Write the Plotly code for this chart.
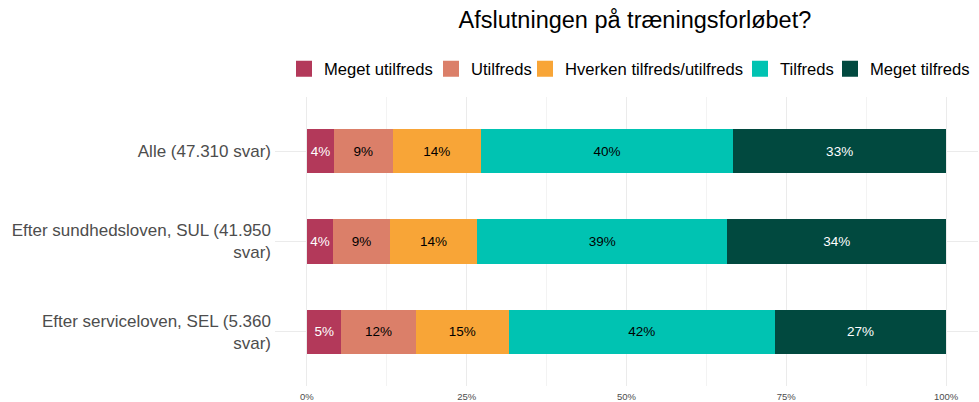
import plotly.graph_objects as go

categories = ["Alle (47.310 svar)",
              "Efter sundhedsloven, SUL (41.950<br>svar)",
              "Efter serviceloven, SEL (5.360<br>svar)"]
series_names = ["Meget utilfreds", "Utilfreds", "Hverken tilfreds/utilfreds", "Tilfreds", "Meget tilfreds"]
meget_utilfreds = [4.2, 4.1, 5.4]
utilfreds = [9.2, 8.9, 11.6]
hverken = [13.8, 13.6, 14.6]
tilfreds = [39.5, 39.2, 41.6]
meget_tilfreds = [33.3, 34.2, 26.8]
values = [meget_utilfreds, utilfreds, hverken, tilfreds, meget_tilfreds]
colors = ["#b3395a", "#db7f69", "#f8a537", "#00c3b2", "#01493f"]
text_colors = ["white", "black", "black", "black", "white"]
legend_widths = [102, 49, 170, 45, 100]
tick_vals = [0, 25, 50, 75, 100]
tick_text = ["0%", "25%", "50%", "75%", "100%"]

FONT = "Liberation Sans, Arial"

fig = go.Figure()
for name, vals, col, tc in zip(series_names, values, colors, text_colors):
    fig.add_trace(go.Bar(
        y=categories, x=vals, name=name, orientation="h",
        marker=dict(color=col, line=dict(width=0)),
        width=0.49,
        text=[f"{v:.0f}%" for v in vals],
        textposition="inside", insidetextanchor="middle",
        textfont=dict(color=tc, size=13.5, family=FONT),
        showlegend=False, hoverinfo="x+name",
    ))
for name, col, lw in zip(series_names, colors, legend_widths):
    fig.add_trace(go.Scatter(
        x=[None], y=[None], mode="markers", name=name,
        marker=dict(symbol="square", size=20, color=col),
        showlegend=True, legendwidth=lw,
    ))

fig.update_layout(
    width=979, height=402,
    barmode="stack",
    plot_bgcolor="white", paper_bgcolor="white",
    margin=dict(l=275, r=1, t=97, b=16, autoexpand=False),
    font=dict(family=FONT, color="#4d4d4d"),
    title=dict(text="Afslutningen på træningsforløbet?", x=0.512, xref="paper",
               xanchor="center", y=1 - 20 / 402, yanchor="middle",
               font=dict(size=23.5, color="black")),
    legend=dict(orientation="h", x=(284 - 275) / 703, xanchor="left", y=1.097, yanchor="middle",
                font=dict(size=16.6, color="black"), itemsizing="trace",
                traceorder="normal"),
    xaxis=dict(range=[-5, 105], tickvals=tick_vals, ticktext=tick_text,
               tickfont=dict(size=9.5, color="#4d4d4d"), showgrid=True,
               gridcolor="#ebebeb", gridwidth=1, zeroline=False, showline=False,
               minor=dict(dtick=12.5, tick0=12.5, showgrid=True, gridcolor="#f3f3f3", gridwidth=0.5),
               ticks="", ticklen=0, ticklabelstandoff=3, fixedrange=True),
    yaxis=dict(categoryorder="array", categoryarray=categories,
               tickfont=dict(size=17, color="#4d4d4d"), showgrid=True,
               gridcolor="#ebebeb", zeroline=False, showline=False, ticks="", ticklen=0,
               ticklabelstandoff=3, autorange=False, range=[2.6, -0.6], fixedrange=True),
)
fig.write_html("out.html", config={"displayModeBar": False},
               post_script="document.body.style.margin='0';")
